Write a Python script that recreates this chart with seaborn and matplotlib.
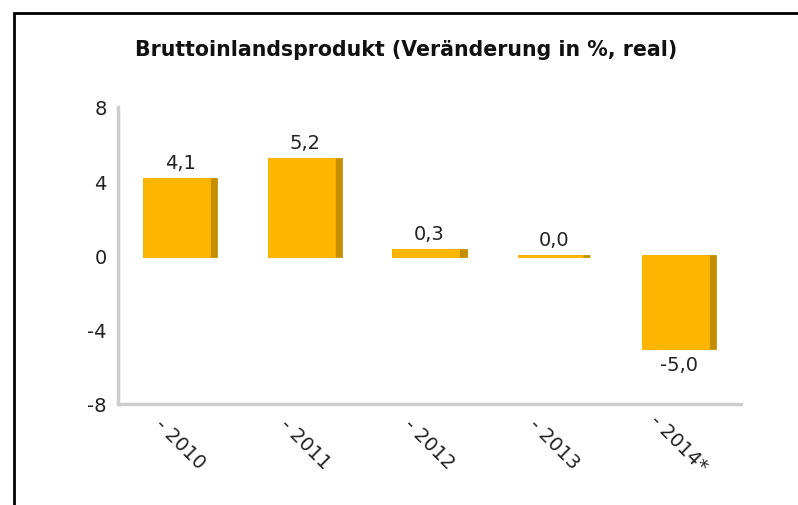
import matplotlib
matplotlib.use("Agg")
import matplotlib.pyplot as plt
import seaborn as sns
import pandas as pd
from matplotlib.patches import Rectangle

# values
years = ["2010", "2011", "2012", "2013", "2014*"]
growth = [4.1, 5.2, 0.3, 0.0, -5.0]
yticks = [-8, -4, 0, 4, 8]

FRONT = "#FDB600"
SHADE = "#C48E00"
AXIS = "#cdcdcd"
TXT = "#222222"

sns.set_style("white")
plt.rcParams["font.family"] = ["DejaVu Sans"]

df = pd.DataFrame({"year": years, "growth": growth})

fig = plt.figure(figsize=(7.98, 5.06), dpi=100)
ax = fig.add_axes([118 / 798, 1 - 405 / 506, (741 - 118) / 798, (405 - 108) / 506])

# darker "side" layer first, then the front face on top (narrower -> 3d look)
sns.barplot(data=df, x="year", y="growth", color=SHADE, width=0.58,
            saturation=1, ax=ax, linewidth=2, edgecolor=SHADE)
shade_bars = list(ax.patches)
sns.barplot(data=df, x="year", y="growth", color=FRONT, width=0.58,
            saturation=1, ax=ax, linewidth=2, edgecolor=FRONT)
front_bars = ax.patches[len(shade_bars):]

labels = [f"{v:.1f}".replace(".", ",") for v in growth]
ax.bar_label(ax.containers[0], labels=labels, padding=5, fontsize=14, color=TXT)
for p in front_bars:
    p.set_width(p.get_width() * 0.9)

ax.set_ylim(-8, 8)
ax.set_xlim(-0.5, len(years) - 0.5)
ax.set_yticks(yticks)
ax.set_yticklabels([str(t) for t in yticks], fontsize=14, color=TXT)
ax.set_xticks(range(len(years)))
ax.set_xticklabels(["- " + y for y in years], rotation=-45, ha="center",
                   va="center", rotation_mode="anchor", fontsize=14, color=TXT)
ax.set_xticks([i - 0.5 for i in range(len(years) + 1)], minor=True)
ax.tick_params(axis="x", which="major", length=0, pad=28)
ax.tick_params(axis="x", which="minor", length=5, width=2, color=AXIS, direction="out")
ax.tick_params(axis="y", length=5, width=2, color=AXIS, direction="out", pad=3)
ax.set_xlabel("")
ax.set_ylabel("")

for s in ["top", "right"]:
    ax.spines[s].set_visible(False)
for s in ["left", "bottom"]:
    ax.spines[s].set_color(AXIS)
    ax.spines[s].set_linewidth(2.5)

fig.text(406 / 798, 1 - 50 / 506, "Bruttoinlandsprodukt (Veränderung in %, real)",
         ha="center", va="center", fontsize=14.8, fontweight="bold", color="#111111")

# black frame, cut off at right and bottom
fig.patches.append(Rectangle((14 / 798, -0.1), 1.2, 1.1 - 14 / 506, transform=fig.transFigure,
                             fill=False, edgecolor="black", linewidth=2))

fig.savefig("out.png", dpi=100)
